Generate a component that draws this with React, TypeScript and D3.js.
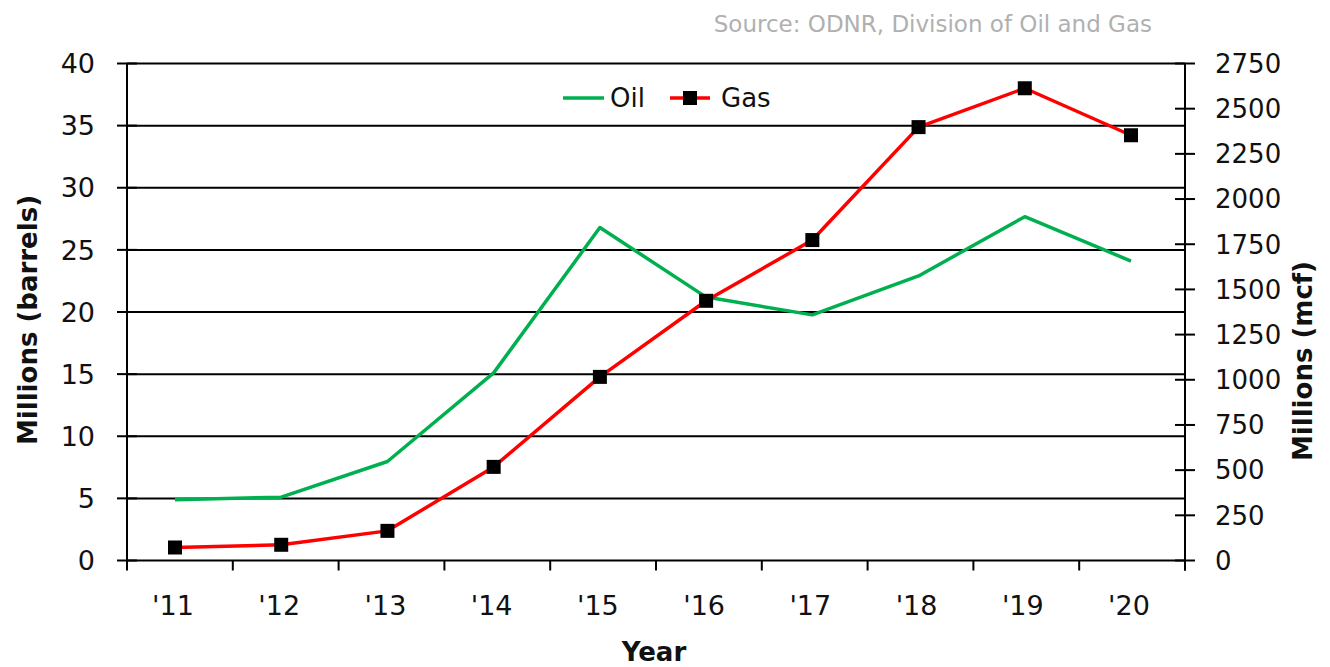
import { useEffect, useRef } from "react";
import * as d3 from "d3";

const years = ["'11", "'12", "'13", "'14", "'15", "'16", "'17", "'18", "'19", "'20"];
const oilValues = [4.88, 5.1, 7.97, 15.1, 26.8, 21.2, 19.77, 22.9, 27.67, 24.1];
const gasValues = [72, 87, 164, 518, 1016, 1437, 1773, 2398, 2613, 2353];
const leftTicks = [0, 5, 10, 15, 20, 25, 30, 35, 40];
const rightTicks = [0, 250, 500, 750, 1000, 1250, 1500, 1750, 2000, 2250, 2500, 2750];

const FONT = "'DejaVu Sans', sans-serif";

export default function App() {
	const ref = useRef<SVGSVGElement>(null);

	useEffect(() => {
		document.body.style.margin = "0";
		if (!ref.current) return;
		const svg = d3.select(ref.current);
		svg.selectAll("*").remove();

		const left = 127;
		const right = 1185;
		const top = 63.5;
		const bottom = 560.5;

		const xBand = d3.scaleBand<string>().domain(years).range([left, right]);
		const xPoint = d3.scalePoint<string>().domain(years).range([175, 1131]);
		const yLeft = d3.scaleLinear().domain([0, 40]).range([bottom, top]);
		const yRight = d3.scaleLinear().domain([0, 2750]).range([bottom, top]);

		// horizontal gridlines
		svg
			.append("g")
			.selectAll("line")
			.data(leftTicks)
			.join("line")
			.attr("x1", left)
			.attr("x2", right)
			.attr("y1", (d) => yLeft(d))
			.attr("y2", (d) => yLeft(d))
			.attr("stroke", "#000")
			.attr("stroke-width", 2);

		// left axis
		const gl = svg.append("g").attr("transform", `translate(${left},0)`);
		gl.append("line").attr("y1", top).attr("y2", bottom).attr("stroke", "#000").attr("stroke-width", 2);
		gl.selectAll("line.tick")
			.data(leftTicks)
			.join("line")
			.attr("class", "tick")
			.attr("x1", -10)
			.attr("x2", 10)
			.attr("y1", (d) => yLeft(d))
			.attr("y2", (d) => yLeft(d))
			.attr("stroke", "#000")
			.attr("stroke-width", 2);
		gl.selectAll("text")
			.data(leftTicks)
			.join("text")
			.attr("x", -32)
			.attr("y", (d) => yLeft(d))
			.attr("dy", "0.36em")
			.attr("text-anchor", "end")
			.attr("font-family", FONT)
			.attr("font-size", 27)
			.attr("fill", "#111")
			.text((d) => String(d));

		// right axis
		const gr = svg.append("g").attr("transform", `translate(${right},0)`);
		gr.append("line").attr("y1", top).attr("y2", bottom + 10).attr("stroke", "#000").attr("stroke-width", 2);
		gr.selectAll("line.tick")
			.data(rightTicks)
			.join("line")
			.attr("class", "tick")
			.attr("x1", -10)
			.attr("x2", 10)
			.attr("y1", (d) => yRight(d))
			.attr("y2", (d) => yRight(d))
			.attr("stroke", "#000")
			.attr("stroke-width", 2);
		gr.selectAll("text")
			.data(rightTicks)
			.join("text")
			.attr("x", 30)
			.attr("y", (d) => yRight(d))
			.attr("dy", "0.36em")
			.attr("text-anchor", "start")
			.attr("font-family", FONT)
			.attr("font-size", 26)
			.attr("fill", "#111")
			.text((d) => String(d));

		// bottom axis ticks at band edges
		const edges = years.map((y) => xBand(y) ?? 0).concat([right]);
		svg
			.append("g")
			.selectAll("line")
			.data(edges)
			.join("line")
			.attr("x1", (d) => d)
			.attr("x2", (d) => d)
			.attr("y1", bottom)
			.attr("y2", bottom + 10)
			.attr("stroke", "#000")
			.attr("stroke-width", 2);
		svg
			.append("g")
			.selectAll("text")
			.data(years)
			.join("text")
			.attr("x", (d) => (xPoint(d) ?? 0) - 2)
			.attr("y", 605)
			.attr("dy", "0.36em")
			.attr("text-anchor", "middle")
			.attr("font-family", FONT)
			.attr("font-size", 27)
			.attr("fill", "#111")
			.text((d) => d);

		// oil line
		const oilLine = d3
			.line<number>()
			.x((_, i) => xPoint(years[i]) ?? 0)
			.y((d) => yLeft(d));
		svg
			.append("path")
			.attr("d", oilLine(oilValues) ?? "")
			.attr("fill", "none")
			.attr("stroke", "#00b050")
			.attr("stroke-width", 3.5)
			.attr("stroke-linejoin", "round");

		// gas line
		const gasLine = d3
			.line<number>()
			.x((_, i) => xPoint(years[i]) ?? 0)
			.y((d) => yRight(d));
		svg
			.append("path")
			.attr("d", gasLine(gasValues) ?? "")
			.attr("fill", "none")
			.attr("stroke", "#ff0000")
			.attr("stroke-width", 3.5)
			.attr("stroke-linejoin", "round");
		svg
			.append("g")
			.selectAll("rect")
			.data(gasValues)
			.join("rect")
			.attr("x", (_, i) => (xPoint(years[i]) ?? 0) - 7)
			.attr("y", (d) => yRight(d) - 7)
			.attr("width", 14)
			.attr("height", 14)
			.attr("fill", "#000");

		// legend
		const lg = svg.append("g").attr("transform", "translate(563,98)");
		lg.append("line").attr("x1", 0).attr("x2", 41).attr("stroke", "#00b050").attr("stroke-width", 3.5);
		lg.append("text")
			.attr("x", 47)
			.attr("dy", "0.36em")
			.attr("font-family", FONT)
			.attr("font-size", 26)
			.attr("fill", "#111")
			.text("Oil");
		lg.append("line").attr("x1", 107).attr("x2", 147).attr("stroke", "#ff0000").attr("stroke-width", 3.5);
		lg.append("rect").attr("x", 120).attr("y", -7).attr("width", 14).attr("height", 14).attr("fill", "#000");
		lg.append("text")
			.attr("x", 158)
			.attr("dy", "0.36em")
			.attr("font-family", FONT)
			.attr("font-size", 26)
			.attr("fill", "#111")
			.text("Gas");

		// axis titles
		svg
			.append("text")
			.attr("transform", `translate(28,${(top + bottom) / 2 + 8}) rotate(-90)`)
			.attr("text-anchor", "middle")
			.attr("dy", "0.36em")
			.attr("font-family", FONT)
			.attr("font-weight", "bold")
			.attr("font-size", 26)
			.attr("fill", "#111")
			.text("Millions (barrels)");
		svg
			.append("text")
			.attr("transform", `translate(1303,361) rotate(-90)`)
			.attr("text-anchor", "middle")
			.attr("dy", "0.36em")
			.attr("font-family", FONT)
			.attr("font-weight", "bold")
			.attr("font-size", 26)
			.attr("fill", "#111")
			.text("Millions (mcf)");
		svg
			.append("text")
			.attr("x", 654)
			.attr("y", 652)
			.attr("dy", "0.36em")
			.attr("text-anchor", "middle")
			.attr("font-family", FONT)
			.attr("font-weight", "bold")
			.attr("font-size", 26)
			.attr("fill", "#111")
			.text("Year");

		// source
		svg
			.append("text")
			.attr("x", 1152)
			.attr("y", 24)
			.attr("dy", "0.36em")
			.attr("text-anchor", "end")
			.attr("font-family", FONT)
			.attr("font-size", 23)
			.attr("fill", "#b0b0b0")
			.text("Source: ODNR, Division of Oil and Gas");
	}, []);

	return <svg ref={ref} width={1330} height={667} style={{ display: "block", background: "#fff" }} />;
}
